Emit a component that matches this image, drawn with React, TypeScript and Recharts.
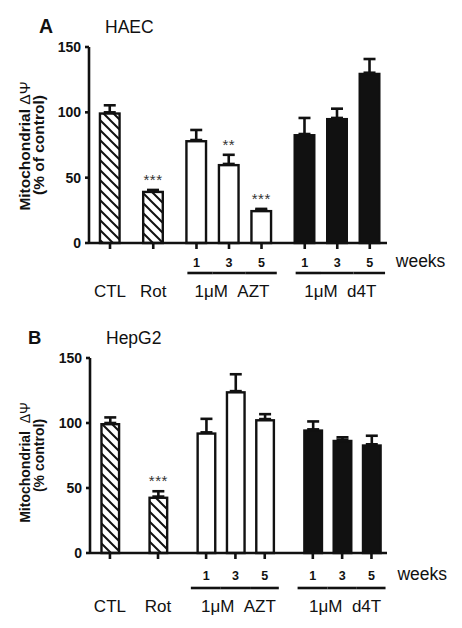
import { BarChart, Bar, XAxis, YAxis, ErrorBar } from "recharts"

const FONT = "'Liberation Sans', Arial, Helvetica, sans-serif"
const INK = "#111"

// categories
const groupNames = ["CTL", "Rot", "1\u03bcM\u00a0\u00a0AZT", "1\u03bcM\u00a0\u00a0d4T"]
const groupOf = [0, 1, 2, 2, 2, 3, 3, 3]
const weekLabels = ["", "", "1", "3", "5", "1", "3", "5"]
const yTicks = [0, 50, 100, 150]

// panel A: HAEC
const haecMean = [100, 40, 78.8, 60.5, 25.3, 83.4, 95.7, 130.3]
const haecSem = [5.4, 0.6, 7.7, 7, 0.8, 12.3, 7.1, 10.5]
const haecSig = ["", "***", "", "**", "***", "", "", ""]

// panel B: HepG2
const hepMean = [100, 43.4, 92.8, 124.5, 103, 95.1, 87.1, 83.6]
const hepSem = [4.3, 4.1, 10.4, 13, 3.8, 6.1, 1.9, 6.6]
const hepSig = ["", "***", "", "", "", "", "", ""]

const groupFill = ["url(#hatch)", "url(#hatch)", "#fff", INK]

function slotPositions(gap: number) {
  const out: number[] = []
  groupOf.forEach((g, i) => {
    out.push(i === 0 ? 0 : out[i - 1] + (g === groupOf[i - 1] ? 1 : gap))
  })
  return out
}

type PanelCfg = {
  mean: number[]
  sem: number[]
  sig: string[]
  gap: number
  domain: [number, number]
  width: number
  height: number
  marginTop: number
  yWidth: number
  xHeight: number
  barSize: number
  ext: [number, number]
  weekDy: number
  lineDy: number
  groupDy: number
  yLine1: string
  yLine2: string
  yFont: number
  yShift: number
}

const BarShape = (props: any) => {
  const { x, y, width, height, payload } = props
  const sw = 2.4
  const ppu = payload.mean ? height / payload.mean : 0
  const errTop = y - payload.sem * ppu
  return (
    <g>
      <rect
        x={x + sw / 2}
        y={y + sw / 2}
        width={Math.max(width - sw, 0)}
        height={Math.max(height - sw / 2, 0)}
        fill={groupFill[payload.group]}
        stroke={INK}
        strokeWidth={sw}
      />
      {payload.sig ? (
        <text
          x={x + width / 2}
          y={errTop - 5}
          textAnchor="middle"
          fontSize={15}
          fill="#333"
          fontFamily={FONT}
          letterSpacing={0.5}
        >
          {payload.sig}
        </text>
      ) : null}
    </g>
  )
}

function XTick(props: any) {
  const { x, y, index, width, cfg } = props
  const axisY = y - 6
  const c = cfg as PanelCfg
  const members = groupOf.map((g, i) => (g === groupOf[index] ? i : -1)).filter((i) => i >= 0)
  const unit = (width || 298) / (c.domain[1] - c.domain[0])
  const first = members[0] === index
  const last = members[members.length - 1] === index
  const mid = members[Math.floor(members.length / 2)] === index
  return (
    <g fontFamily={FONT} fill={INK}>
      {weekLabels[index] ? (
        <text x={x} y={axisY + c.weekDy} textAnchor="middle" fontSize={12.5} fontWeight="bold">
          {weekLabels[index]}
        </text>
      ) : null}
      {members.length > 1 ? (
        <line
          x1={x - (first ? c.ext[0] : 0.5) * unit}
          x2={x + (last ? c.ext[1] : 0.5) * unit}
          y1={axisY + c.lineDy}
          y2={axisY + c.lineDy}
          stroke={INK}
          strokeWidth={2.6}
        />
      ) : null}
      {mid ? (
        <text x={x + (members.length > 1 ? 3 : 0)} y={axisY + c.groupDy} textAnchor="middle" fontSize={17}>
          {groupNames[groupOf[index]]}
        </text>
      ) : null}
      {index === groupOf.length - 1 ? (
        <text x={x + 26} y={axisY + c.weekDy} fontSize={17.5}>
          weeks
        </text>
      ) : null}
    </g>
  )
}

function YLabel(props: any) {
  const { viewBox, cfg } = props
  const c = cfg as PanelCfg
  const vb = viewBox || { x: 0, y: c.marginTop, width: c.yWidth, height: c.height - c.marginTop - c.xHeight }
  const cy = vb.y + vb.height / 2
  return (
    <g fontFamily={FONT} fill={INK} fontSize={c.yFont} fontWeight="bold">
      <text transform={`translate(${vb.x + 30},${cy + c.yShift}) rotate(-90)`} textAnchor="middle">
        {c.yLine1}
        <tspan fontWeight="normal">{"\u0394\u03a8"}</tspan>
      </text>
      <text transform={`translate(${vb.x + 44},${cy}) rotate(-90)`} textAnchor="middle">
        {c.yLine2}
      </text>
    </g>
  )
}

function Panel({ cfg }: { cfg: PanelCfg }) {
  const pos = slotPositions(cfg.gap)
  const rows = pos.map((p, i) => ({
    pos: p,
    mean: cfg.mean[i],
    sem: cfg.sem[i],
    err: [0, cfg.sem[i]],
    sig: cfg.sig[i],
    group: groupOf[i],
  }))
  const axisStroke = { stroke: INK, strokeWidth: 2.6 }
  return (
    <BarChart
      width={cfg.width}
      height={cfg.height}
      data={rows}
      margin={{ top: cfg.marginTop, right: 75, bottom: 0, left: 0 }}
    >
      <XAxis
        dataKey="pos"
        type="number"
        domain={cfg.domain}
        allowDataOverflow
        ticks={pos}
        interval={0}
        height={cfg.xHeight}
        tickSize={6}
        tickMargin={0}
        axisLine={axisStroke}
        tickLine={axisStroke}
        tick={(p: any) => <XTick {...p} cfg={cfg} />}
      />
      <YAxis
        type="number"
        domain={[0, 150]}
        ticks={yTicks}
        width={cfg.yWidth}
        tickSize={4}
        tickMargin={4}
        axisLine={axisStroke}
        tickLine={axisStroke}
        tick={{ fill: INK, fontSize: 14, fontWeight: "bold", fontFamily: FONT }}
        label={{ content: (p: any) => <YLabel {...p} cfg={cfg} /> }}
      />
      <Bar dataKey="mean" barSize={cfg.barSize} shape={BarShape} isAnimationActive={false}>
        <ErrorBar dataKey="err" width={6} stroke={INK} strokeWidth={2.6} isAnimationActive={false} />
      </Bar>
    </BarChart>
  )
}

const panelA: PanelCfg = {
  mean: haecMean,
  sem: haecSem,
  sig: haecSig,
  gap: 1.33,
  domain: [-0.646, 8.52],
  width: 462,
  height: 312,
  marginTop: 47,
  yWidth: 89,
  xHeight: 69,
  barSize: 22,
  ext: [0.28, 0.47],
  weekDy: 23.7,
  lineDy: 30,
  groupDy: 53.7,
  yLine1: "Mitochondrial ",
  yLine2: "(% of control)",
  yFont: 15.5,
  yShift: 1,
}

const panelB: PanelCfg = {
  mean: hepMean,
  sem: hepSem,
  sig: hepSig,
  gap: 1.64,
  domain: [-0.68, 9.45],
  width: 462,
  height: 316,
  marginTop: 46,
  yWidth: 90,
  xHeight: 75,
  barSize: 20,
  ext: [0.52, 0.48],
  weekDy: 27,
  lineDy: 35,
  groupDy: 58.5,
  yLine1: "Mitochondrial\u00a0\u00a0",
  yLine2: "(% control)",
  yFont: 14,
  yShift: 7,
}

export default function App() {
  return (
    <div style={{ position: "absolute", left: 0, top: 0, width: 462, height: 628, background: "#fff" }}>
      <div style={{ position: "absolute", left: 0, top: 0 }}>
        <Panel cfg={panelA} />
      </div>
      <div style={{ position: "absolute", left: 0, top: 312 }}>
        <Panel cfg={panelB} />
      </div>
      <svg
        width={462}
        height={628}
        style={{ position: "absolute", left: 0, top: 0, pointerEvents: "none" }}
        fontFamily={FONT}
        fill={INK}
      >
        <defs>
          <pattern id="hatch" patternUnits="userSpaceOnUse" width={10} height={10}>
            <rect width={10} height={10} fill="#fff" />
            <path d="M0,0 L10,10 M-2,8 L2,12 M8,-2 L12,2" stroke={INK} strokeWidth={2} />
          </pattern>
        </defs>
        <text x={39} y={33} fontSize={19.5} fontWeight="bold">A</text>
        <text x={105} y={33} fontSize={17.5}>HAEC</text>
        <text x={28} y={344} fontSize={18.5} fontWeight="bold">B</text>
        <text x={106} y={344} fontSize={17.5}>HepG2</text>
      </svg>
    </div>
  )
}
